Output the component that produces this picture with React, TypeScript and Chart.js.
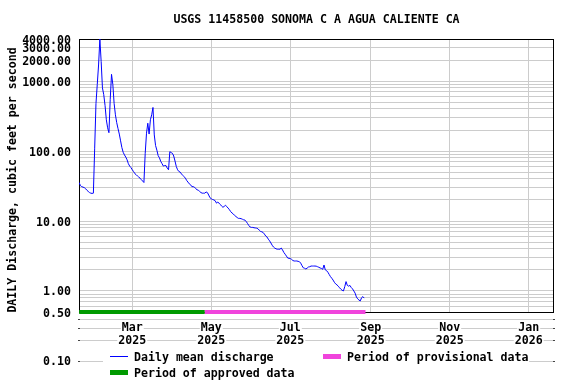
import { useEffect, useRef } from 'react';
import { Chart, registerables } from 'chart.js';

Chart.register(...registerables);

// ---------- data ----------
const chartTitle = 'USGS 11458500 SONOMA C A AGUA CALIENTE CA';
const yAxisTitle = 'DAILY Discharge, cubic feet per second';

// day index counted from 2025-01-01 (day 0); first value is Jan 19, 2025
const firstDay = 18;
const discharge = [
  35.5, 32, 31, 30.5, 30, 29, 27.5, 26.5, 25.5, 25,
  24.8, 25, 110, 480, 900, 1700, 4000, 1900, 800, 640,
  450, 280, 215, 183, 550, 1250, 900, 480, 330, 255,
  210, 175, 140, 112, 96, 88, 82, 75, 66, 61,
  58, 54, 51, 47.5, 46, 44, 42.5, 41, 39, 37.3,
  35.5, 93, 180, 250, 175, 280, 330, 420, 170, 120,
  103, 86, 80, 71, 66, 61, 62, 62, 57, 54,
  98, 95, 93, 85, 72, 60, 54, 51, 50, 47,
  45, 43, 41, 38, 36, 34, 33, 31, 31, 30.5,
  29, 28, 27.5, 26.5, 25.5, 25, 25, 25, 26, 25.5,
  23.5, 21.5, 20.8, 20.3, 20, 19.5, 18, 18.6, 18, 17.2,
  16.3, 15.7, 16.2, 16.8, 16, 15.3, 14.5, 13.6, 13, 12.6,
  12, 11.6, 11.2, 10.9, 10.9, 10.8, 10.6, 10.4, 10.3, 9.8,
  9.2, 8.6, 8.2, 8.1, 8.1, 8.0, 7.95, 7.9, 7.75, 7.4,
  7.1, 7.0, 6.85, 6.5, 6.1, 5.9, 5.5, 5.2, 4.85, 4.5,
  4.25, 4.1, 4.0, 3.95, 3.95, 3.95, 4.1, 3.85, 3.55, 3.35,
  3.15, 2.95, 2.93, 2.9, 2.83, 2.72, 2.68, 2.68, 2.68, 2.65,
  2.62, 2.5, 2.3, 2.14, 2.11, 2.06, 2.12, 2.2, 2.22, 2.27,
  2.27, 2.27, 2.27, 2.26, 2.22, 2.18, 2.13, 2.1, 2.04, 2.35,
  2.0, 1.95, 1.85, 1.72, 1.6, 1.52, 1.43, 1.33, 1.26, 1.22,
  1.17, 1.11, 1.06, 1.02, 1.0, 1.15, 1.36, 1.2, 1.17, 1.2,
  1.12, 1.07, 1.0, 0.93, 0.82, 0.77, 0.74, 0.72, 0.8, 0.83,
  0.79,
];

const approvedPeriod = [18, 115];
const provisionalPeriod = [115, 239];
const periodLevel = 0.5;

const xMin = 17.9;
const xMax = 384.5;
const xTickDays = [59, 120, 181, 243, 304, 365];
const xTickLabels = [
  ['Mar', '2025'],
  ['May', '2025'],
  ['Jul', '2025'],
  ['Sep', '2025'],
  ['Nov', '2025'],
  ['Jan', '2026'],
];

const yMin = 0.5;
const yMax = 4000;
const yTicks = [
  0.5, 0.6, 0.7, 0.8, 0.9,
  1, 2, 3, 4, 5, 6, 7, 8, 9,
  10, 20, 30, 40, 50, 60, 70, 80, 90,
  100, 200, 300, 400, 500, 600, 700, 800, 900,
  1000, 2000, 3000, 4000,
];
const yLabeledTicks = [0.5, 1, 10, 100, 1000, 2000, 3000, 4000];
const yExtraTicks = [0.4, 0.3, 0.2, 0.1];
const yExtraLabeled = [0.1];

const seriesNames = ['Daily mean discharge', 'Period of provisional data', 'Period of approved data'];

// ---------- styles ----------
const FONT_FAMILY = '"DejaVu Sans Mono", monospace';
const FONT_SIZE = 11.6;
const X_LINE_HEIGHT = 1.12;
const X_PAD = 9;
const BLUE = '#0000ff';
const GREEN = '#009a00';
const MAGENTA = '#f044dc';
const GRID = '#cccccc';

const fontCss = `bold ${FONT_SIZE}px ${FONT_FAMILY}`;

const extrasPlugin = {
  id: 'extras',
  beforeDraw(chart: any) {
    const { ctx, chartArea, scales } = chart;
    const y = scales.y;
    const x = scales.x;
    ctx.save();
    ctx.strokeStyle = GRID;
    ctx.lineWidth = 1;
    yExtraTicks.forEach((v) => {
      const py = Math.round(y.getPixelForValue(v)) + 0.5;
      ctx.beginPath();
      ctx.moveTo(chartArea.left, py);
      ctx.lineTo(chartArea.right, py);
      ctx.stroke();
      ctx.fillStyle = '#444';
      ctx.fillRect(chartArea.left - 1, py - 0.5, 2, 1);
      ctx.fillRect(chartArea.right - 1, py - 0.5, 2, 1);
    });
    // white boxes behind the x tick labels
    ctx.font = fontCss;
    ctx.fillStyle = '#fff';
    const lh = FONT_SIZE * X_LINE_HEIGHT;
    xTickDays.forEach((d, i) => {
      const px = x.getPixelForValue(d);
      xTickLabels[i].forEach((line, j) => {
        const cy = chartArea.bottom + X_PAD + lh / 2 + j * lh - 1.5;
        const w = ctx.measureText(line).width;
        ctx.fillRect(px - w / 2 - 1, cy - 5, w + 2, 10);
      });
    });
    ctx.fillStyle = '#000';
    ctx.textAlign = 'right';
    ctx.textBaseline = 'middle';
    yExtraLabeled.forEach((v) => {
      ctx.fillText(v.toFixed(2), chartArea.left - 8, y.getPixelForValue(v) + 1.5);
    });
    // rotated y-axis title
    ctx.save();
    ctx.translate(13, 180);
    ctx.rotate(-Math.PI / 2);
    ctx.textAlign = 'center';
    ctx.textBaseline = 'middle';
    ctx.fillText(yAxisTitle, 0, 0);
    ctx.restore();
    ctx.restore();
  },
  beforeDatasetsDraw(chart: any) {
    const { ctx, chartArea } = chart;
    ctx.save();
    ctx.strokeStyle = '#000';
    ctx.lineWidth = 1;
    const l = Math.round(chartArea.left) + 0.5;
    const t = Math.round(chartArea.top) + 0.5;
    const r = Math.round(chartArea.right) - 0.5;
    const b = Math.round(chartArea.bottom) + 0.5;
    ctx.strokeRect(l, t, r - l, b - t);
    ctx.restore();
  },
  afterDraw(chart: any) {
    const { ctx } = chart;
    ctx.save();
    ctx.fillStyle = '#fff';
    ctx.fillRect(103, 348, 426, 34);
    ctx.font = fontCss;
    ctx.textAlign = 'left';
    ctx.textBaseline = 'middle';
    // row 1
    ctx.strokeStyle = BLUE;
    ctx.lineWidth = 1;
    ctx.beginPath();
    ctx.moveTo(110, 356.5);
    ctx.lineTo(128, 356.5);
    ctx.stroke();
    ctx.fillStyle = '#000';
    ctx.fillText(seriesNames[0], 134, 358);
    ctx.fillStyle = MAGENTA;
    ctx.fillRect(323, 354, 18, 5);
    ctx.fillStyle = '#000';
    ctx.fillText(seriesNames[1], 347, 358);
    // row 2
    ctx.fillStyle = GREEN;
    ctx.fillRect(110, 370, 18, 5);
    ctx.fillStyle = '#000';
    ctx.fillText(seriesNames[2], 134, 373.5);
    ctx.restore();
  },
};

export default function App() {
  const canvasRef = useRef<HTMLCanvasElement | null>(null);

  useEffect(() => {
    const canvas = canvasRef.current;
    if (!canvas) return;
    const font = { family: FONT_FAMILY, size: FONT_SIZE, weight: 'bold' as const, lineHeight: 1.2 };

    const chart = new Chart(canvas, {
      type: 'line',
      data: {
        datasets: [
          {
            label: seriesNames[0],
            data: discharge.map((v, i) => ({ x: firstDay + i, y: v })),
            borderColor: BLUE,
            borderWidth: 1,
            pointRadius: 0,
            tension: 0,
            fill: false,
          },
          {
            label: seriesNames[1],
            data: provisionalPeriod.map((d) => ({ x: d, y: periodLevel })),
            borderColor: MAGENTA,
            borderWidth: 4,
            pointRadius: 0,
            clip: false as any,
          },
          {
            label: seriesNames[2],
            data: approvedPeriod.map((d) => ({ x: d, y: periodLevel })),
            borderColor: GREEN,
            borderWidth: 4,
            pointRadius: 0,
            clip: false as any,
          },
        ],
      },
      options: {
        responsive: false,
        animation: false,
        layout: { padding: { top: 0, right: 22, bottom: 0, left: 0 } },
        plugins: {
          legend: { display: false },
          tooltip: { enabled: false },
          title: {
            display: true,
            text: chartTitle,
            fullSize: false,
            color: '#000',
            font,
            padding: { top: 13.5, bottom: 11.58 },
          },
        },
        scales: {
          x: {
            type: 'linear',
            min: xMin,
            max: xMax,
            afterBuildTicks: (s: any) => {
              s.ticks = xTickDays.map((v) => ({ value: v }));
            },
            afterFit: (s: any) => {
              s.height = 72;
            },
            grid: { color: GRID, drawTicks: false, lineWidth: 1 },
            border: { display: false },
            ticks: {
              autoSkip: false,
              maxRotation: 0,
              minRotation: 0,
              padding: X_PAD,
              color: '#000',
              font: { ...font, lineHeight: X_LINE_HEIGHT },
              callback: (_v: any, i: number) => xTickLabels[i],
            },
          },
          y: {
            type: 'logarithmic',
            min: yMin,
            max: yMax,
            afterBuildTicks: (s: any) => {
              s.ticks = yTicks.map((v) => ({ value: v }));
            },
            afterFit: (s: any) => {
              s.width = 79;
            },
            grid: { color: GRID, drawTicks: false, lineWidth: 1 },
            border: { display: false },
            ticks: {
              autoSkip: false,
              padding: 8,
              labelOffset: 1.5,
              color: '#000',
              font,
              callback: (v: any) => (yLabeledTicks.includes(Number(v)) ? Number(v).toFixed(2) : ''),
            },
            title: { display: false },
          },
        },
      },
      plugins: [extrasPlugin],
    });

    return () => chart.destroy();
  }, []);

  return (
    <div style={{ position: 'fixed', left: 0, top: 0, width: 576, height: 384, background: '#fff' }}>
      <canvas ref={canvasRef} width={576} height={384} style={{ display: 'block', width: 576, height: 384 }} />
    </div>
  );
}
